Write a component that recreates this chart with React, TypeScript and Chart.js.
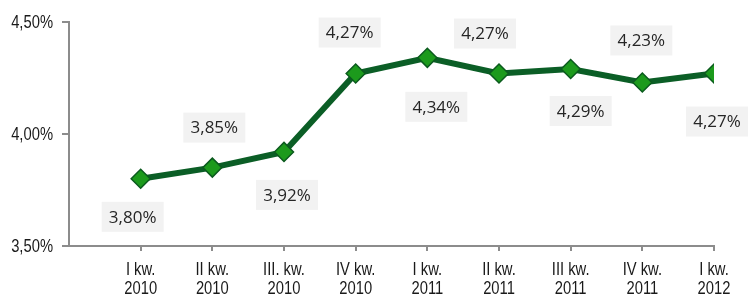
import React, { useEffect, useRef } from "react";
import { Chart, registerables } from "chart.js";

Chart.register(...registerables);

const categories: string[][] = [
  ["I kw.", "2010"],
  ["II kw.", "2010"],
  ["III. kw.", "2010"],
  ["IV kw.", "2010"],
  ["I kw.", "2011"],
  ["II kw.", "2011"],
  ["III kw.", "2011"],
  ["IV kw.", "2011"],
  ["I kw.", "2012"],
];
const values: number[] = [3.8, 3.85, 3.92, 4.27, 4.34, 4.27, 4.29, 4.23, 4.27];
const valueLabels: string[] = ["3,80%", "3,85%", "3,92%", "4,27%", "4,34%", "4,27%", "4,29%", "4,23%", "4,27%"];
const yTicks: number[] = [3.5, 4.0, 4.5];

// label placement (styling): offsets in px from the point
const labelDx = [-8, 2, 3, -6, 9, -14, 10, -1, 3];
const labelDy = [38, -40, 43, -41, 49, -40, 42, -42, 48];

const fmtY = (v: number) => v.toFixed(2).replace(".", ",") + "%";
const AXIS_FONT = "18px 'Liberation Sans', Arial, sans-serif";
const SQUEEZE = 0.82;

const narrowText = (ctx: CanvasRenderingContext2D, text: string, x: number, y: number, align: CanvasTextAlign) => {
  ctx.save();
  ctx.translate(x, y);
  ctx.scale(SQUEEZE, 1);
  ctx.textAlign = align;
  ctx.fillText(text, 0, 0);
  ctx.restore();
};

const axisLabelPlugin = {
  id: "axisLabels",
  afterDraw(chart: any) {
    const ctx = chart.ctx;
    const xs = chart.scales.x;
    const ys = chart.scales.y;
    ctx.save();
    ctx.font = AXIS_FONT;
    ctx.fillStyle = "#1a1a1a";
    ctx.textBaseline = "middle";
    yTicks.forEach((v) => {
      narrowText(ctx, fmtY(v), ys.left + ys.width - 16, ys.getPixelForValue(v) + 1, "right");
    });
    categories.forEach((lines, i) => {
      const px = xs.getPixelForValue(i);
      lines.forEach((line, j) => {
        narrowText(ctx, line, px, xs.top + 24 + j * 19, "center");
      });
    });
    ctx.restore();
  },
};

const labelPlugin = {
  id: "boxLabels",
  afterDatasetsDraw(chart: any) {
    const ctx = chart.ctx;
    const meta = chart.getDatasetMeta(0);
    ctx.save();
    ctx.font = "17px 'Open Sans', 'Noto Sans', sans-serif";
    ctx.textAlign = "center";
    ctx.textBaseline = "middle";
    meta.data.forEach((pt: any, i: number) => {
      const cx = pt.x + labelDx[i];
      const cy = pt.y + labelDy[i];
      const w = 62;
      const h = 30;
      ctx.fillStyle = "#f2f2f2";
      ctx.fillRect(cx - w / 2, cy - h / 2, w, h);
      ctx.fillStyle = "#262626";
      ctx.fillText(valueLabels[i], cx, cy + 1);
    });
    ctx.restore();
  },
};

export default function App() {
  const ref = useRef<HTMLCanvasElement | null>(null);
  useEffect(() => {
    if (!ref.current) return;
    const chart = new Chart(ref.current, {
      type: "line",
      data: {
        datasets: [
          {
            data: values.map((v, i) => ({ x: i, y: v })),
            borderColor: "#0b5e26",
            borderWidth: 6,
            pointStyle: "rectRot",
            pointRadius: 9.5,
            pointBackgroundColor: "#1c9a1c",
            pointBorderColor: "#0b5a1e",
            pointBorderWidth: 1.5,
            tension: 0,
          },
        ],
      },
      options: {
        animation: false,
        responsive: false,
        maintainAspectRatio: false,
        events: [],
        layout: { padding: { top: 22, right: 35, left: 0, bottom: 0 } },
        plugins: { legend: { display: false }, tooltip: { enabled: false } },
        scales: {
          x: {
            type: "linear",
            min: -1,
            max: 8,
            afterBuildTicks: (scale: any) => {
              scale.ticks = categories.map((_, i) => ({ value: i }));
            },
            afterFit: (scale: any) => {
              scale.height = 52;
            },
            grid: {
              display: true,
              drawOnChartArea: false,
              drawTicks: true,
              tickLength: 5,
              color: "#8c8c8c",
              lineWidth: 2,
            },
            border: { display: true, color: "#8c8c8c", width: 2 },
            ticks: { display: false },
          },
          y: {
            min: 3.5,
            max: 4.5,
            afterBuildTicks: (scale: any) => {
              scale.ticks = yTicks.map((v) => ({ value: v }));
            },
            afterFit: (scale: any) => {
              scale.width = 69;
            },
            grid: {
              display: true,
              drawOnChartArea: false,
              drawTicks: true,
              tickLength: 7,
              color: "#8c8c8c",
              lineWidth: 2,
            },
            border: { display: true, color: "#8c8c8c", width: 2 },
            ticks: { display: false },
          },
        },
      },
      plugins: [labelPlugin, axisLabelPlugin],
    } as any);
    return () => chart.destroy();
  }, []);
  return (
    <div style={{ position: "absolute", left: 0, top: 0, width: 749, height: 298, background: "#fff" }}>
      <canvas ref={ref} width={749} height={298} style={{ display: "block" }} />
    </div>
  );
}
